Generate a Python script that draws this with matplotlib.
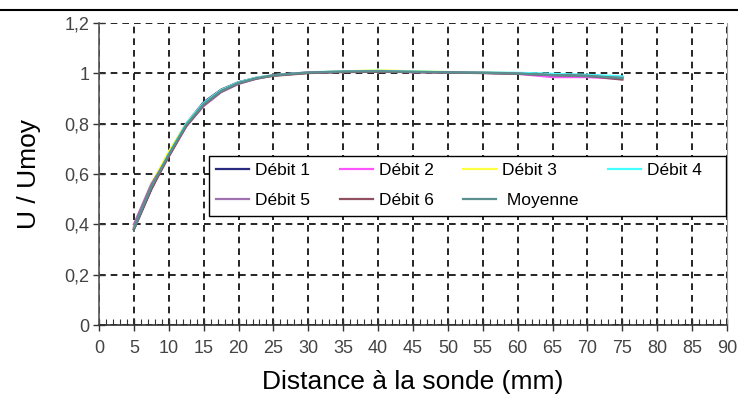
import matplotlib
matplotlib.use("Agg")
import matplotlib.pyplot as plt
from matplotlib.lines import Line2D
from matplotlib.patches import Rectangle
from matplotlib.ticker import MultipleLocator, FuncFormatter

plt.rcParams['font.family'] = ['Liberation Sans', 'DejaVu Sans']

distance = [5, 7.5, 10, 12.5, 15, 17.5, 20, 22.5, 25, 30, 35, 40, 45, 50, 55, 60, 65, 70, 75]

debit1 = [0.38, 0.54, 0.68, 0.80, 0.885, 0.935, 0.965, 0.982, 0.992, 1.002, 1.006, 1.008, 1.006, 1.004, 1.003, 1.000, 0.996, 0.992, 0.985]
debit2 = [0.39, 0.55, 0.68, 0.79, 0.875, 0.930, 0.962, 0.980, 0.992, 1.003, 1.007, 1.008, 1.005, 1.004, 1.002, 0.998, 0.985, 0.985, 0.978]
debit3 = [0.39, 0.56, 0.69, 0.80, 0.880, 0.932, 0.963, 0.981, 0.991, 1.003, 1.008, 1.012, 1.008, 1.005, 1.003, 1.000, 0.995, 0.990, 0.982]
debit4 = [0.38, 0.55, 0.68, 0.80, 0.882, 0.933, 0.964, 0.982, 0.993, 1.004, 1.008, 1.010, 1.007, 1.005, 1.003, 1.002, 0.998, 0.994, 0.988]
debit5 = [0.40, 0.56, 0.67, 0.79, 0.870, 0.925, 0.958, 0.978, 0.992, 1.004, 1.006, 1.007, 1.005, 1.004, 1.002, 0.999, 0.992, 0.988, 0.982]
debit6 = [0.38, 0.54, 0.67, 0.79, 0.875, 0.928, 0.960, 0.979, 0.990, 1.001, 1.005, 1.006, 1.005, 1.003, 1.001, 0.998, 0.993, 0.990, 0.975]
moyenne = [0.385, 0.55, 0.678, 0.795, 0.878, 0.930, 0.962, 0.980, 0.992, 1.003, 1.007, 1.008, 1.006, 1.004, 1.002, 0.999, 0.993, 0.990, 0.981]

labels = ['Débit 1', 'Débit 2', 'Débit 3', 'Débit 4', 'Débit 5', 'Débit 6', ' Moyenne']
colors = ['#2a2a80', '#ff55ff', '#ffff44', '#44ffff', '#a070b0', '#905060', '#5a9090']
series = [debit1, debit2, debit3, debit4, debit5, debit6, moyenne]

fig = plt.figure(figsize=(7.38, 4.0), dpi=100)
ax = fig.add_axes([99/738, 1-325/400, 628/738, 302/400])

handles = []
for vals, lab, col in zip(series, labels, colors):
    h, = ax.plot(distance, vals, color=col, lw=1.6, label=lab)
    handles.append(h)

ax.set_xlim(0, 90)
ax.set_ylim(0, 1.2)
ax.xaxis.set_major_locator(MultipleLocator(5))
ax.xaxis.set_minor_locator(MultipleLocator(1))
ax.yaxis.set_major_locator(MultipleLocator(0.2))
ax.yaxis.set_major_formatter(FuncFormatter(lambda v, p: ('%g' % round(v, 1)).replace('.', ',')))

ax.grid(True, which='major', color='black', linestyle=(0, (4, 3)), linewidth=1.2)
ax.set_axisbelow(True)
ygl = ax.yaxis.get_gridlines()
ygl[-1].set_visible(False)
ygl[0].set_visible(False)
xgl = ax.xaxis.get_gridlines()
xgl[0].set_visible(False)
xgl[-1].set_visible(False)

ax.spines['top'].set_visible(False)
ax.spines['left'].set_color('#555555')
ax.spines['bottom'].set_color('#333333')
ax.spines['right'].set_color('#999999')
ax.spines['left'].set_linewidth(1.2)
ax.spines['bottom'].set_linewidth(1.2)

ax.tick_params(axis='both', which='major', direction='inout', length=8, width=1, colors='#333333',
               labelsize=13, labelcolor='#444444')
ax.tick_params(axis='x', which='minor', direction='in', length=4, width=0.8, colors='#333333')
ax.tick_params(axis='x', which='major', pad=7)
ax.tick_params(axis='y', which='major', pad=3)

ax.set_xlabel('Distance à la sonde (mm)', fontsize=19, labelpad=9)
ax.set_ylabel('U / Umoy', fontsize=19, labelpad=17)

# legend frame
x0 = (209 - 99) / 628
x1 = (726 - 99) / 628
y0 = (325 - 216) / 302
y1 = (325 - 156) / 302
ax.add_patch(Rectangle((x0, y0), x1 - x0, y1 - y0, transform=ax.transAxes,
                       facecolor='white', edgecolor='black', lw=1.0, zorder=4.5))

order = [0, 4, 1, 5, 2, 6, 3]
leg = ax.legend([handles[i] for i in order], [labels[i] for i in order],
                loc='upper left', bbox_to_anchor=(x0, y1),
                ncol=4, fontsize=12.5, frameon=False,
                handlelength=1.9, handletextpad=0.35, borderaxespad=0, borderpad=0.4,
                labelspacing=0.85, columnspacing=1.7)
leg.set_zorder(5)

fig.add_artist(Line2D([0, 1], [1-10/400, 1-10/400], transform=fig.transFigure, color='black', lw=1.5))

fig.savefig('out.png', dpi=100)
